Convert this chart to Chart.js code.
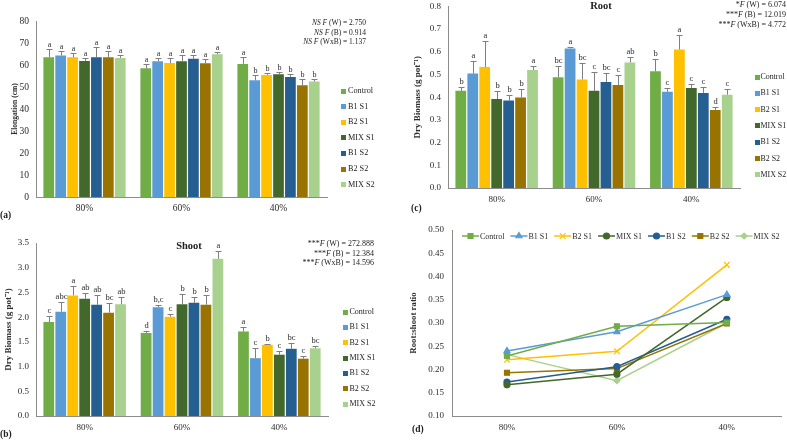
<!DOCTYPE html>
<html>
<head>
<meta charset="utf-8">
<script src="https://cdn.jsdelivr.net/npm/chart.js@4.4.1/dist/chart.umd.min.js"></script>
<style>
  body { margin: 0; background: #fff; }
  #page { position: relative; width: 787px; height: 440px; overflow: hidden; font-family: 'Liberation Serif', 'Times New Roman', serif; color: #222; }
  .pane { position: absolute; }
  .t { position: absolute; white-space: nowrap; line-height: 1; }
  .stats { position: absolute; text-align: right; white-space: nowrap; }
  .lab { font-weight: bold; font-size: 9.5px; }
  .ttl { font-weight: bold; font-size: 10.5px; transform: translate(-50%, -50%); }
</style>
</head>
<body>
<div id="page">
  <div class="pane" style="left:0;top:0;"><canvas id="cA" width="390" height="215"></canvas></div>
  <div class="pane" style="left:0;top:215px;"><canvas id="cB" width="390" height="225"></canvas></div>
  <div class="pane" style="left:390px;top:-6px;"><canvas id="cC" width="397" height="221"></canvas></div>
  <div class="pane" style="left:390px;top:215px;"><canvas id="cD" width="397" height="225"></canvas></div>

  <div class="stats" style="right:421px;top:18px;font-size:7.5px;line-height:9.6px;">
    <i>NS F</i> (W) = 2.750<br><i>NS F</i> (B) = 0.914<br><i>NS F</i> (WxB) = 1.137
  </div>
  <div class="stats" style="right:413px;top:239px;font-size:8px;line-height:9.6px;">
    ***<i>F</i> (W) = 272.888<br>***<i>F</i> (B) = 12.384<br>***<i>F</i> (WxB) = 14.596
  </div>
  <div class="stats" style="right:1px;top:0px;font-size:8px;line-height:10px;">
    *<i>F</i> (W) = 6.074<br>***<i>F</i> (B) = 12.019<br>***<i>F</i> (WxB) = 4.772
  </div>

  <div class="t ttl" style="left:189px;top:246px;">Shoot</div>
  <div class="t ttl" style="left:601px;top:6px;">Root</div>

  <div class="t lab" style="left:0;top:211px;">(a)</div>
  <div class="t lab" style="left:0;top:430px;">(b)</div>
  <div class="t lab" style="left:411px;top:204px;">(c)</div>
  <div class="t lab" style="left:412px;top:425px;">(d)</div>
</div>

<script>
// ── dados ─────────────────────────────────────────────────────────────────
const waterLevels = ['80%', '60%', '40%'];
const treatments = ['Control', 'B1 S1', 'B2 S1', 'MIX S1', 'B1 S2', 'B2 S2', 'MIX S2'];
const colors = ['#70AD47', '#5B9BD5', '#FFC000', '#43682B', '#255E91', '#997300', '#A9D18E'];

// (a) alongamento (cm): média, desvio e letras por tratamento (80/60/40%)
const elongMean = [
  [63.5, 58.5, 60.5], [64.3, 61.7, 53.1], [63.5, 60.9, 55.5], [61.8, 61.7, 55.8],
  [63.5, 62.8, 54.6], [63.5, 60.8, 50.8], [63.2, 64.9, 52.5]
];
const elongSd = [
  [3.6, 2.0, 3.0], [2.2, 1.5, 2.2], [2.0, 2.1, 0.7], [1.4, 2.9, 0.9],
  [4.5, 1.6, 1.3], [2.9, 1.8, 2.7], [1.3, 1.0, 1.3]
];
const elongLetters = [
  ['a', 'a', 'a'], ['a', 'a', 'b'], ['a', 'a', 'b'], ['a', 'a', 'b'],
  ['a', 'a', 'b'], ['a', 'a', 'b'], ['a', 'a', 'b']
];

// (b) biomassa seca da parte aérea (g pot-1)
const shootMean = [
  [1.90, 1.68, 1.71], [2.11, 2.20, 1.17], [2.44, 2.01, 1.44], [2.37, 2.26, 1.24],
  [2.25, 2.29, 1.36], [2.09, 2.25, 1.16], [2.26, 3.18, 1.37]
];
const shootSd = [
  [0.12, 0.04, 0.09], [0.19, 0.05, 0.21], [0.20, 0.06, 0.01], [0.12, 0.20, 0.08],
  [0.20, 0.12, 0.12], [0.20, 0.20, 0.06], [0.15, 0.15, 0.04]
];
const shootLetters = [
  ['c', 'd', 'a'], ['abc', 'b,c', 'c'], ['a', 'c', 'b'], ['ab', 'b', 'c'],
  ['ab', 'b', 'bc'], ['bc', 'b', 'c'], ['ab', 'a', 'bc']
];

// (c) biomassa seca da raiz (g pot-1)
const rootMean = [
  [0.428, 0.488, 0.514], [0.504, 0.615, 0.424], [0.533, 0.478, 0.610], [0.392, 0.428, 0.440],
  [0.386, 0.467, 0.419], [0.399, 0.454, 0.344], [0.520, 0.553, 0.411]
];
const rootSd = [
  [0.017, 0.048, 0.055], [0.054, 0.007, 0.016], [0.116, 0.072, 0.064], [0.037, 0.082, 0.018],
  [0.025, 0.039, 0.026], [0.035, 0.045, 0.012], [0.016, 0.026, 0.024]
];
const rootLetters = [
  ['b', 'bc', 'b'], ['a', 'a', 'c'], ['a', 'bc', 'a'], ['b', 'c', 'c'],
  ['b', 'bc', 'c'], ['b', 'c', 'd'], ['a', 'ab', 'c']
];

// (d) razão raiz:parte aérea
const ratio = [
  [0.229, 0.293, 0.301], [0.240, 0.281, 0.361], [0.221, 0.239, 0.425], [0.167, 0.190, 0.355],
  [0.173, 0.206, 0.308], [0.193, 0.202, 0.299], [0.232, 0.176, 0.300]
];
const markers = ['rect', 'triangle', 'crossRot', 'circle', 'circle', 'rect', 'rectRot'];
const markerSize = [3.5, 3.5, 4, 3, 3, 3.5, 3];

const FONT = "'Liberation Serif', 'Times New Roman', serif";
const AXIS = '#8c8c8c';
const INK = '#2b2b2b';

// ── barras de erro + letras ───────────────────────────────────────────────
const errPlugin = {
  id: 'errLetters',
  afterDatasetsDraw(chart, args, opts) {
    const ctx = chart.ctx, ys = chart.scales.y;
    ctx.save();
    chart.data.datasets.forEach((ds, di) => {
      chart.getDatasetMeta(di).data.forEach((bar, i) => {
        const x = Math.round(bar.x) + 0.5;
        const top = Math.round(ys.getPixelForValue(ds.data[i] + ds.sd[i])) + 0.5;
        ctx.strokeStyle = '#7f7f7f'; ctx.lineWidth = 1;
        ctx.beginPath();
        ctx.moveTo(x, bar.y); ctx.lineTo(x, top);
        ctx.moveTo(x - 3, top); ctx.lineTo(x + 3, top);
        ctx.stroke();
        ctx.fillStyle = INK;
        ctx.font = opts.size + 'px ' + FONT;
        ctx.textAlign = 'center'; ctx.textBaseline = 'bottom';
        ctx.fillText(ds.letters[i], x, top - 1);
      });
    });
    ctx.restore();
  }
};

function barChart(id, mean, sd, letters, o) {
  return new Chart(document.getElementById(id), {
    type: 'bar',
    data: {
      labels: waterLevels,
      datasets: treatments.map((t, i) => ({
        label: t, data: mean[i], sd: sd[i], letters: letters[i],
        backgroundColor: colors[i], barPercentage: 0.9, categoryPercentage: 0.86
      }))
    },
    options: {
      responsive: false, animation: false,
      layout: { padding: { top: o.top, right: o.right, left: 0, bottom: 0 } },
      plugins: { legend: { display: false }, tooltip: { enabled: false }, errLetters: { size: o.letter } },
      scales: {
        x: {
          grid: { display: false, drawTicks: false }, border: { color: AXIS },
          ticks: { color: INK, font: { family: FONT, size: o.tick }, padding: 6 },
          afterFit: s => { s.height = o.xh; }
        },
        y: {
          min: o.min, max: o.max,
          grid: { display: false, drawTicks: false }, border: { color: AXIS },
          ticks: { stepSize: o.step, color: INK, font: { family: FONT, size: o.tick }, padding: 7, callback: v => v.toFixed(o.dec) },
          title: { display: true, text: o.title, color: INK, font: { family: FONT, size: o.tsize, weight: 'bold' }, padding: { top: o.tpad, bottom: 0 } },
          afterFit: s => { s.width = o.yw; }
        }
      }
    },
    plugins: [errPlugin]
  });
}

function htmlLegend(sx, tx, y0, step, fs) {
  const page = document.getElementById('page');
  treatments.forEach((t, i) => {
    const yc = y0 + i * step;
    const sq = document.createElement('div');
    sq.style.cssText = `position:absolute;left:${sx}px;top:${yc - 2.5}px;width:5px;height:5px;background:${colors[i]};`;
    page.appendChild(sq);
    const tt = document.createElement('div');
    tt.className = 't';
    tt.style.cssText = `left:${tx}px;top:${yc - fs / 2}px;font-size:${fs}px;`;
    tt.textContent = t;
    page.appendChild(tt);
  });
}

barChart('cA', elongMean, elongSd, elongLetters, {
  top: 21, right: 63, xh: 18, yw: 36, min: 0, max: 80, step: 10, dec: 0,
  tick: 9.5, letter: 8, title: 'Elongation (cm)', tsize: 7.5, tpad: 11
});
barChart('cB', shootMean, shootSd, shootLetters, {
  top: 28, right: 62, xh: 24, yw: 36, min: 0, max: 3.5, step: 0.5, dec: 1,
  tick: 9, letter: 8.5, title: 'Dry Biomass (g pot⁻¹)', tsize: 9, tpad: 3
});
barChart('cC', rootMean, rootSd, rootLetters, {
  top: 9, right: 47, xh: 27, yw: 58, min: 0, max: 0.8, step: 0.1, dec: 1,
  tick: 9, letter: 8.5, title: 'Dry Biomass (g pot⁻¹)', tsize: 9, tpad: 22
});

htmlLegend(341, 348, 91, 15.6, 8.2);
htmlLegend(342.5, 349.5, 312, 15.35, 8);
htmlLegend(754.5, 760.5, 77, 16.3, 7.9);

// ── (d) legenda em linha dentro da área do gráfico ───────────────────────
const lineLegend = {
  id: 'lineLegend',
  afterDraw(chart) {
    const ctx = chart.ctx;
    let x = 72; const y = 21;
    ctx.save();
    ctx.font = '8px ' + FONT;
    ctx.textBaseline = 'middle'; ctx.textAlign = 'left';
    chart.data.datasets.forEach((ds, i) => {
      ctx.strokeStyle = ds.borderColor; ctx.lineWidth = 1.5;
      ctx.beginPath(); ctx.moveTo(x, y); ctx.lineTo(x + 17, y); ctx.stroke();
      ctx.fillStyle = ds.backgroundColor; ctx.lineWidth = 1.2;
      Chart.helpers.drawPoint(ctx, { pointStyle: ds.pointStyle, radius: ds.pointRadius, rotation: 0, borderWidth: 1.2 }, x + 8.5, y);
      ctx.fillStyle = INK;
      ctx.fillText(ds.label, x + 18, y + 0.5);
      x += 18 + ctx.measureText(ds.label).width + 6;
    });
    ctx.restore();
  }
};

new Chart(document.getElementById('cD'), {
  type: 'line',
  data: {
    labels: waterLevels,
    datasets: treatments.map((t, i) => ({
      label: t, data: ratio[i], borderColor: colors[i], backgroundColor: colors[i],
      borderWidth: 1.5, pointStyle: markers[i], pointRadius: markerSize[i], pointBorderWidth: 1.2, tension: 0
    }))
  },
  options: {
    responsive: false, animation: false,
    layout: { padding: { top: 15, right: 0, left: 0, bottom: 0 } },
    plugins: { legend: { display: false }, tooltip: { enabled: false } },
    scales: {
      x: {
        offset: true,
        grid: { display: false, drawTicks: false }, border: { color: AXIS },
        ticks: { color: INK, font: { family: FONT, size: 9 }, padding: 6 },
        afterFit: s => { s.height = 24; }
      },
      y: {
        min: 0.1, max: 0.5,
        grid: { display: false, drawTicks: false }, border: { color: AXIS },
        ticks: { stepSize: 0.05, color: INK, font: { family: FONT, size: 9 }, padding: 8, callback: v => v.toFixed(2) },
        title: { display: true, text: 'Root:shoot ratio', color: INK, font: { family: FONT, size: 8.8, weight: 'bold' }, padding: { top: 18, bottom: 0 } },
        afterFit: s => { s.width = 62; }
      }
    }
  },
  plugins: [lineLegend]
});
</script>
</body>
</html>
